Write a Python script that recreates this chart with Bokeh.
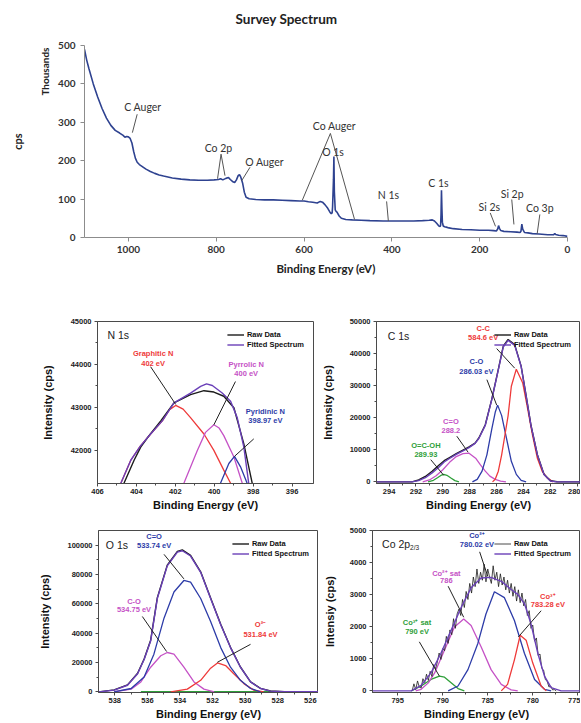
from bokeh.plotting import figure
from bokeh.models import (Range1d, ColumnDataSource, FixedTicker,
                          Legend, LegendItem, BasicTickFormatter, Title)
from bokeh.layouts import column, row
from bokeh.embed import file_html
from bokeh.resources import INLINE
from bokeh.core.properties import value

# ---------------- Survey spectrum (binding energy eV, cps in thousands)
survey_be = [1100, 1095, 1090, 1080, 1070, 1060, 1050, 1040, 1030, 1020, 1012, 1008, 1004, 1000,
             996, 992, 988, 984, 980, 975, 970, 960, 950, 940, 930, 920, 900, 880, 860, 840, 820,
             805, 795, 790, 785, 778, 772, 768, 763, 758, 754, 750, 747, 744, 740, 736, 732, 725,
             710, 690, 670, 650, 630, 610, 600, 590, 580, 570, 563, 558, 552, 546, 541, 538, 536,
             535, 533, 532, 531, 529, 527, 525, 520, 515, 505, 490, 470, 450, 420, 400, 380, 350,
             330, 315, 308, 303, 298, 293, 290, 289, 288, 287, 286, 285, 283, 280, 276, 270, 260,
             240, 220, 200, 180, 168, 162, 159, 157, 155, 152, 145, 130, 115, 108, 106, 104, 102,
             98, 90, 80, 65, 45, 32, 29, 27, 20, 10, 0]
survey_kcps = [490, 462, 440, 400, 366, 336, 311, 292, 279, 272, 266, 261, 263, 262,
               258, 246, 224, 206, 196, 190, 186, 178, 172, 167, 163, 160, 155, 152, 150, 149, 149,
               150, 151, 153, 150, 154, 156, 151, 146, 143, 150, 161, 164, 157, 142, 118, 105, 101,
               99, 98, 98, 97, 96, 95, 95, 93, 92, 90, 94, 92, 85, 76, 66, 62, 64,
               80, 150, 211, 120, 72, 68, 66, 56, 50, 47, 46, 45, 44, 43, 43, 43, 43,
               44, 45, 46, 43, 37, 30, 29, 32, 60, 123, 75, 40, 30, 28, 27, 25, 23,
               21, 20, 19, 19, 18, 17, 22, 31, 24, 18, 16, 15, 14, 13, 16, 35,
               22, 13, 12, 10, 9, 7, 7, 10, 8, 6, 5, 3]
survey_labels = ["C Auger", "Co 2p", "O Auger", "Co Auger", "O 1s", "N 1s", "C 1s", "Si 2s", "Si 2p", "Co 3p"]
survey_label_x = [967, 795, 690, 531, 534, 408, 294, 178, 126, 63]
survey_label_y = [340, 234, 196, 290, 222, 111, 141, 79, 114, 78]
survey_lead_x0 = [980, 789, 789, 723, 540, 540, 412, 176, 127, 63]
survey_lead_y0 = [321, 217, 217, 183, 271, 271, 94, 64, 99, 60]
survey_lead_x1 = [991, 797, 780, 742, 604, 485, 408, 164, 122, 69]
survey_lead_y1 = [273, 153, 161, 148, 97, 47, 43, 29, 34, 10]
survey_xticks = [0, 200, 400, 600, 800, 1000]
survey_yticks = [0, 100, 200, 300, 400, 500]

# ---------------- N 1s
n_raw_x = [404.64, 404.12, 403.78, 403.35, 402.75, 402.07, 401.22, 400.53, 400.02, 399.51, 398.99, 398.48, 398.05]
n_raw_y = [41237, 41771, 42076, 42344, 42687, 43107, 43298, 43390, 43358, 43260, 42992, 42153, 41237]
n_fit_x = [404.8, 404.29, 403.8, 403.27, 402.67, 402.07, 401.22, 400.7, 400.4, 400.1, 399.59, 399.16, 398.82, 398.48, 398.23]
n_fit_y = [41237, 41771, 42100, 42383, 42687, 43107, 43335, 43489, 43550, 43511, 43335, 43145, 42763, 42076, 41237]
n_gra_x = [404.8, 404.29, 403.8, 403.27, 402.67, 402.3, 401.98, 401.6, 401.22, 400.53, 400.02, 399.51, 399.16]
n_gra_y = [41237, 41771, 42100, 42383, 42687, 42950, 43047, 42960, 42763, 42382, 42000, 41542, 41237]
n_pyr_x = [401.56, 400.87, 400.45, 400.02, 399.75, 399.51, 398.99, 398.56]
n_pyr_y = [41237, 42000, 42420, 42596, 42520, 42344, 41847, 41237]
n_pyd_x = [399.68, 399.25, 398.96, 398.65, 398.31]
n_pyd_y = [41237, 41695, 41862, 41618, 41237]
n_lab_text = ["Graphitic N", "402 eV", "Pyrrolic N", "400 eV", "Pyridinic N", "398.97 eV"]
n_lab_x = [403.14, 403.14, 398.36, 398.36, 397.37, 397.37]
n_lab_y = [44251, 44022, 44000, 43779, 42916, 42703]
n_lead_x0 = [403.27, 398.91, 397.97]
n_lead_y0 = [43947, 43603, 42268]
n_lead_x1 = [401.98, 400.02, 398.96]
n_lead_y1 = [43070, 42596, 41862]
n_xticks = [406, 404, 402, 400, 398, 396]
n_yticks = [42000, 43000, 44000, 45000]

# ---------------- C 1s
c_fit_x = [294.9, 292.3, 291.8, 291.3, 290.8, 290.3, 289.9, 289.5, 289.0, 288.5, 288.05, 287.6, 287.32,
           286.84, 286.35, 285.87, 285.5, 285.14, 284.65, 284.17, 283.8, 283.44, 282.96, 282.47,
           281.99, 281.5, 279.75]
c_fit_y = [0, 0, 400, 1300, 2800, 4600, 6200, 7300, 8600, 9700, 10700, 12000, 13540,
           17610, 25760, 34930, 42060, 44100, 42570, 35950, 26780, 17610, 8430, 2340,
           300, 0, 0]
c_raw_y = [0, 0, 600, 1700, 3300, 5200, 6600, 7600, 8800, 9900, 10900, 12100, 13700,
           17800, 25900, 35100, 42300, 44400, 42800, 36100, 26900, 17700, 8500, 2400,
           350, 50, 0]
c_cc_x = [286.3, 286.1, 285.87, 285.62, 285.38, 285.14, 284.9, 284.53, 284.05, 283.68, 283.32, 282.96, 282.6, 282.23, 281.8]
c_cc_y = [0, 800, 3340, 8430, 14540, 20660, 29800, 35140, 30800, 22650, 14500, 7360, 3290, 1260, 0]
c_co_x = [287.8, 287.44, 287.08, 286.72, 286.35, 286.1, 285.92, 285.62, 285.26, 284.9, 284.53, 284.17, 283.8]
c_co_y = [0, 800, 3340, 8430, 16590, 21690, 23930, 20660, 13540, 6410, 2340, 500, 0]
c_cdo_x = [291.5, 291.0, 290.5, 290.0, 289.5, 289.0, 288.5, 288.05, 287.56, 287.2, 286.84, 286.5, 286.1, 285.7, 285.3]
c_cdo_y = [0, 600, 1900, 3800, 6100, 7900, 8800, 8950, 7400, 5300, 3340, 1800, 800, 250, 0]
c_ocoh_x = [291.1, 290.7, 290.4, 290.15, 289.93, 289.7, 289.4, 289.1, 288.8]
c_ocoh_y = [0, 500, 1300, 2000, 2320, 2050, 1200, 400, 0]
c_lab_text = ["C-C", "584.6 eV", "C-O", "286.03 eV", "C=O", "288.2", "O=C-OH", "289.93"]
c_lab_x = [287.0, 287.0, 287.5, 287.5, 289.4, 289.4, 291.26, 291.26]
c_lab_y = [47900, 45000, 37470, 34400, 18830, 16080, 11500, 8450]
c_lead_x0 = [285.99, 286.72, 288.96, 290.9]
c_lead_y0 = [41550, 31870, 14250, 6920]
c_lead_x1 = [284.65, 285.99, 288.12, 289.93]
c_lead_y1 = [35450, 23930, 9260, 2030]
c_xticks = [294, 292, 290, 288, 286, 284, 282, 280]
c_yticks = [0, 10000, 20000, 30000, 40000, 50000]

# ---------------- O 1s
o_fit_x = [539.0, 538.86, 538.04, 537.22, 536.6, 536.2, 535.8, 535.39, 534.78, 534.16, 533.86, 533.35,
           532.73, 532.12, 531.5, 530.9, 530.29, 529.67, 529.06, 528.45, 527.6, 525.5]
o_fit_y = [0, 0, 1100, 4460, 12280, 22000, 34600, 63600, 85900, 95300, 96200, 92600,
           81500, 63600, 45760, 30130, 16740, 6700, 2230, 450, 0, 0]
o_raw_y = [0, 100, 1300, 4700, 12600, 22400, 35200, 64200, 86400, 95800, 96800, 93000,
           81800, 63900, 46000, 30300, 16900, 6800, 2300, 500, 50, 0]
o_cdo_x = [538.04, 537.0, 536.2, 535.6, 534.98, 534.37, 533.76, 533.35, 532.73, 532.12, 531.5, 530.9, 530.29, 529.67, 529.06]
o_cdo_y = [0, 2230, 10040, 25670, 50200, 68080, 75900, 74770, 63600, 48000, 30130, 16740, 7810, 2230, 0]
o_co_x = [538.04, 537.0, 536.4, 535.8, 535.18, 534.78, 534.37, 533.76, 533.14, 532.53, 531.9]
o_co_y = [0, 1800, 6700, 16740, 24550, 26780, 25670, 16740, 6700, 1800, 0]
o_ox_x = [534.57, 533.55, 532.73, 532.12, 531.7, 531.2, 530.7, 530.08, 529.47, 528.86]
o_ox_y = [0, 1800, 7810, 16070, 19640, 17860, 12280, 5580, 1100, 0]
o_bg_x = [536.4, 528.0]
o_bg_y = [0, 0]
o_lab_text = ["C=O", "533.74 eV", "C-O", "534.75 eV", "O\u00b2\u207b", "531.84 eV"]
o_lab_x = [535.59, 535.59, 536.82, 536.82, 529.06, 529.06]
o_lab_y = [105570, 99770, 61830, 55800, 45760, 39060]
o_lead_x0 = [534.98, 536.31, 529.67]
o_lead_y0 = [93740, 51340, 32360]
o_lead_x1 = [533.76, 534.82, 531.71]
o_lead_y1 = [77000, 27450, 20090]
o_xticks = [538, 536, 534, 532, 530, 528, 526]
o_yticks = [0, 20000, 40000, 60000, 80000, 100000]

# ---------------- Co 2p
co_raw_x = [793.4, 793.2, 793.0, 792.8, 792.6, 792.4, 792.2, 792.0, 791.8, 791.6, 791.4, 791.2,
            791.0, 790.8, 790.6, 790.4, 790.2, 790.0, 789.8, 789.6, 789.4, 789.2, 789.0, 788.8,
            788.6, 788.4, 788.2, 788.0, 787.8, 787.6, 787.4, 787.2, 787.0, 786.8, 786.6, 786.4,
            786.2, 786.0, 785.8, 785.6, 785.4, 785.2, 785.0, 784.8, 784.6, 784.4, 784.2, 784.0,
            783.8, 783.6, 783.4, 783.2, 783.0, 782.8, 782.6, 782.4, 782.2, 782.0, 781.8, 781.6,
            781.4, 781.2, 781.0, 780.8, 780.6, 780.4, 780.2, 780.0, 779.8, 779.6, 779.4, 779.2,
            779.0, 778.8, 778.6, 778.4, 778.2, 778.0, 777.8, 777.6, 777.4]
co_raw_y = [0, 220, 40, 310, 120, 90, 380, 260, 520, 330, 610, 450,
            820, 690, 900, 1180, 980, 1320, 1250, 1700, 1480, 1900, 1750, 2250,
            1950, 2400, 2550, 2350, 2850, 2600, 3100, 2850, 3350, 3050, 3550, 3250,
            3800, 3350, 3700, 3450, 3950, 3400, 3800, 3550, 3350, 3900, 3450, 3700,
            3250, 3650, 3300, 3550, 3150, 3450, 3050, 3350, 2950, 3250, 2800, 3150,
            2750, 3050, 2650, 2850, 2350, 2500, 1950, 2050, 1550, 1650, 1100, 1150,
            700, 650, 350, 300, 120, 150, 30, 40, 0]
co_fit_x = [797.8, 793.5, 792.4, 791.3, 790.2, 789.07, 787.96, 786.85, 785.74, 784.63, 783.5, 782.4,
            781.67, 780.9, 780.2, 779.44, 778.7, 777.96, 776.85, 774.7]
co_fit_y = [0, 0, 173, 561, 1173, 1887, 2600, 3213, 3519, 3540, 3417, 3162,
            3009, 2703, 2091, 1173, 459, 102, 0, 0]
co_s3_x = [793.5, 792.4, 791.3, 790.37, 789.8, 789.07, 788.3, 787.6]
co_s3_y = [0, 153, 357, 459, 428, 255, 71, 0]
co_s2_x = [793.0, 792.4, 791.6, 790.9, 789.8, 788.7, 787.67, 786.85, 785.74, 784.63, 783.5, 782.4, 781.67]
co_s2_y = [0, 51, 250, 561, 1275, 1989, 2244, 2040, 1377, 663, 204, 31, 0]
co_c2_x = [789.4, 788.3, 787.2, 786.1, 785.2, 784.26, 783.15, 782.04, 780.93, 779.8, 778.7, 777.96]
co_c2_y = [0, 153, 663, 1479, 2397, 3090, 2907, 2193, 1173, 357, 51, 0]
co_c3_x = [783.5, 782.8, 782.04, 781.4, 780.74, 780.0, 779.07, 778.5]
co_c3_y = [0, 204, 969, 1734, 1581, 867, 153, 0]
co_lab_text = ["Co\u00b2\u207a", "780.02 eV", "Co\u00b2\u207a sat", "786", "Co\u00b3\u207a", "783.28 eV", "Co\u00b3\u207a sat", "790 eV"]
co_lab_x = [786.2, 786.2, 789.6, 789.6, 778.33, 778.33, 792.85, 792.85]
co_lab_y = [4845, 4560, 3672, 3437, 2958, 2683, 2142, 1867]
co_lead_x0 = [785.9, 789.4, 779.07, 792.6]
co_lead_y0 = [4335, 3264, 2499, 1530]
co_lead_x1 = [785.0, 787.67, 781.6, 790.37]
co_lead_y1 = [3570, 2295, 1683, 459]
co_xticks = [795, 790, 785, 780, 775]
co_yticks = [0, 1000, 2000, 3000, 4000, 5000]

RED = "#ee3a3a"
MAG = "#c552c6"
BLUE = "#2d3ca8"
GREEN = "#2fa03a"
PURPLE = "#6a40b8"
RAW = "#1c1c1c"
AX = "#4a4a4a"
FONT = "Liberation Sans"


def make_panel(width, height, xr, yr, xticks, yticks, borders, ylabel, ylab_standoff):
    bl, br, bt, bb = borders
    p = figure(width=width, height=height, x_range=Range1d(xr[0], xr[1]),
               y_range=Range1d(yr[0], yr[1]), output_backend="svg", toolbar_location=None,
               min_border_left=bl, min_border_right=br, min_border_top=bt, min_border_bottom=bb)
    p.xgrid.visible = False
    p.ygrid.visible = False
    p.outline_line_color = AX
    p.outline_line_width = 1
    p.outline_line_alpha = 1
    xminor = [(a + b) / 2 for a, b in zip(xticks[:-1], xticks[1:])]
    yminor = [(a + b) / 2 for a, b in zip(yticks[:-1], yticks[1:])]
    p.xaxis.ticker = FixedTicker(ticks=xticks, minor_ticks=xminor)
    p.yaxis.ticker = FixedTicker(ticks=yticks, minor_ticks=yminor)
    p.xaxis.formatter = BasicTickFormatter(use_scientific=False)
    p.yaxis.formatter = BasicTickFormatter(use_scientific=False)
    for ax in (p.xaxis[0], p.yaxis[0]):
        ax.axis_line_color = AX
        ax.major_tick_line_color = AX
        ax.minor_tick_line_color = AX
        ax.major_tick_out = 3
        ax.major_tick_in = 0
        ax.minor_tick_out = 2
        ax.minor_tick_in = 0
        ax.major_label_text_font = FONT
        ax.major_label_text_font_style = "bold"
        ax.major_label_text_font_size = "7.5px"
        ax.major_label_text_color = "#222222"
        ax.axis_label_text_font = FONT
        ax.axis_label_text_font_style = "bold"
        ax.axis_label_text_font_size = "11px"
        ax.axis_label_text_color = "#111111"
    p.xaxis.axis_label = "Binding Energy (eV)"
    p.yaxis.axis_label = ylabel
    p.xaxis.major_label_standoff = 2
    p.xaxis.axis_label_standoff = 2
    p.yaxis.major_label_standoff = 3
    p.yaxis.axis_label_standoff = ylab_standoff
    return p


def add_curves(p, comps, raw, fit):
    for xs, ys, col in comps:
        p.line(xs, ys, line_color=col, line_width=1.3)
    r_raw = p.line(raw[0], raw[1], line_color=RAW, line_width=raw[2])
    r_fit = p.line(fit[0], fit[1], line_color=PURPLE, line_width=1.4)
    lg = Legend(items=[LegendItem(label="Raw Data", renderers=[r_raw]),
                       LegendItem(label="Fitted Spectrum", renderers=[r_fit])],
                location="top_right", label_text_font=FONT, label_text_font_style="bold",
                label_text_font_size="7.5px", label_text_color="#111111",
                glyph_width=17, glyph_height=9, label_height=9, label_standoff=3,
                spacing=1, padding=1, margin=8,
                background_fill_alpha=0, border_line_alpha=0)
    p.add_layout(lg)


def add_labels(p, xs, ys, texts, colors, lx0, ly0, lx1, ly1):
    p.segment(x0=lx0, y0=ly0, x1=lx1, y1=ly1, line_color="#222222", line_width=1)
    src = ColumnDataSource(dict(x=xs, y=ys, text=texts, color=colors))
    p.text(x="x", y="y", text="text", text_color="color", source=src,
           text_font=value(FONT), text_font_style="bold", text_font_size="7.5px",
           text_align="center", text_baseline="middle")


def add_title(p, x, y, txt):
    p.text(x=[x], y=[y], text=[txt], text_color="#222222", text_font=value(FONT),
           text_font_size="10.5px", text_align="left", text_baseline="middle")


# ---------------- Survey figure
ps = figure(width=575, height=290, x_range=Range1d(1100, 0), y_range=Range1d(0, 500),
            output_backend="svg", toolbar_location=None,
            min_border_left=84, min_border_right=8, min_border_top=45, min_border_bottom=53)
ps.title.text = "Survey Spectrum"
ps.title.align = "left"
ps.title.offset = 151
ps.title.standoff = 4
ps.title.text_font = "Lato"
ps.title.text_font_style = "bold"
ps.title.text_font_size = "13.5px"
ps.title.text_color = "#222222"
ps.add_layout(Title(text=" ", text_font_size="1px", standoff=14), "above")
ps.xgrid.visible = False
ps.ygrid.visible = False
ps.outline_line_color = None
ps.xaxis.ticker = FixedTicker(ticks=survey_xticks, minor_ticks=[])
ps.yaxis.ticker = FixedTicker(ticks=survey_yticks, minor_ticks=[])
for ax in (ps.xaxis[0], ps.yaxis[0]):
    ax.axis_line_color = "#8c8c8c"
    ax.major_tick_line_color = "#8c8c8c"
    ax.major_tick_out = 4
    ax.major_tick_in = 0
    ax.minor_tick_line_color = None
    ax.major_label_text_font = "Lato"
    ax.major_label_text_font_style = "bold"
    ax.major_label_text_font_size = "10px"
    ax.major_label_text_color = "#333333"
    ax.axis_label_text_font = "Lato"
    ax.axis_label_text_font_style = "bold"
    ax.axis_label_text_color = "#222222"
ps.xaxis.axis_label = "Binding Energy (eV)"
ps.xaxis.axis_label_text_font_size = "11.5px"
ps.xaxis.major_label_standoff = 4
ps.xaxis.axis_label_standoff = 6
ps.yaxis.major_label_standoff = 5
# "Thousands" sits at the top end of the y axis, "cps" centred further out
ps.add_layout(Title(text="Thousands", align="right", offset=2, standoff=10,
                    text_font="Lato", text_font_style="bold", text_font_size="10px",
                    text_color="#222222"), "left")
ps.add_layout(Title(text="cps", align="center", standoff=16,
                    text_font="Lato", text_font_style="bold", text_font_size="11px",
                    text_color="#222222"), "left")
ps.line(survey_be, survey_kcps, line_color="#2e4290", line_width=1.6)
ps.segment(x0=survey_lead_x0, y0=survey_lead_y0, x1=survey_lead_x1, y1=survey_lead_y1,
           line_color="#555555", line_width=1)
ssrc = ColumnDataSource(dict(x=survey_label_x, y=survey_label_y, text=survey_labels))
ps.text(x="x", y="y", text="text", source=ssrc, text_color="#333333",
        text_font=value("Lato"), text_font_size="10.5px", text_align="center",
        text_baseline="middle")

# ---------------- N 1s
pn = make_panel(318, 225, (406, 394.9), (41230, 45000), n_xticks, n_yticks, (97, 5, 29, 32),
                "Intensity (cps)", 14)
add_curves(pn, [(n_gra_x, n_gra_y, RED), (n_pyr_x, n_pyr_y, MAG), (n_pyd_x, n_pyd_y, BLUE)],
           (n_raw_x, n_raw_y, 1.4), (n_fit_x, n_fit_y))
add_labels(pn, n_lab_x, n_lab_y, n_lab_text, [RED, RED, MAG, MAG, BLUE, BLUE],
           n_lead_x0, n_lead_y0, n_lead_x1, n_lead_y1)
add_title(pn, 405.49, 44686, "N 1s")

# ---------------- C 1s
pc = make_panel(262, 225, (294.94, 279.75), (-500, 50000), c_xticks, c_yticks, (53, 0, 31, 31),
                "Intensity (cps)", 13)
add_curves(pc, [(c_ocoh_x, c_ocoh_y, GREEN), (c_cdo_x, c_cdo_y, MAG), (c_co_x, c_co_y, BLUE),
                (c_cc_x, c_cc_y, RED)],
           (c_fit_x, c_raw_y, 1.4), (c_fit_x, c_fit_y))
add_labels(pc, c_lab_x, c_lab_y, c_lab_text, [RED, RED, BLUE, BLUE, MAG, MAG, GREEN, GREEN],
           c_lead_x0, c_lead_y0, c_lead_x1, c_lead_y1)
add_title(pc, 294.1, 45600, "C 1s")

# ---------------- O 1s
po = make_panel(318, 207, (539, 525.5), (-500, 110000), o_xticks, o_yticks, (98, 0, 14, 29),
                "Intensity (cps)", 13)
po.line(o_bg_x, o_bg_y, line_color=GREEN, line_width=1.6)
add_curves(po, [(o_co_x, o_co_y, MAG), (o_ox_x, o_ox_y, RED), (o_cdo_x, o_cdo_y, BLUE)],
           (o_fit_x, o_raw_y, 1.4), (o_fit_x, o_fit_y))
add_labels(po, o_lab_x, o_lab_y, o_lab_text, [BLUE, BLUE, MAG, MAG, RED, RED],
           o_lead_x0, o_lead_y0, o_lead_x1, o_lead_y1)
add_title(po, 538.55, 100440, "O 1s")

# ---------------- Co 2p
pco = make_panel(262, 207, (797.8, 774.7), (-50, 5000), co_xticks, co_yticks, (54, 0, 15, 29),
                 "Intensiy (cps)", 11)
add_curves(pco, [(co_s3_x, co_s3_y, GREEN), (co_s2_x, co_s2_y, MAG), (co_c2_x, co_c2_y, BLUE),
                 (co_c3_x, co_c3_y, RED)],
           (co_raw_x, co_raw_y, 0.8), (co_fit_x, co_fit_y))
add_labels(pco, co_lab_x, co_lab_y, co_lab_text, [BLUE, BLUE, MAG, MAG, RED, RED, GREEN, GREEN],
           co_lead_x0, co_lead_y0, co_lead_x1, co_lead_y1)
add_title(pco, 796.74, 4590, "Co 2p")
pco.text(x=[796.74], y=[4590], text=["2/3"], x_offset=28, y_offset=4, text_color="#222222",
         text_font=value(FONT), text_font_size="6.5px", text_align="left", text_baseline="middle")

layout = column(ps, row(pn, pc), row(po, pco))
open("out.html", "w").write(file_html(layout, INLINE))
